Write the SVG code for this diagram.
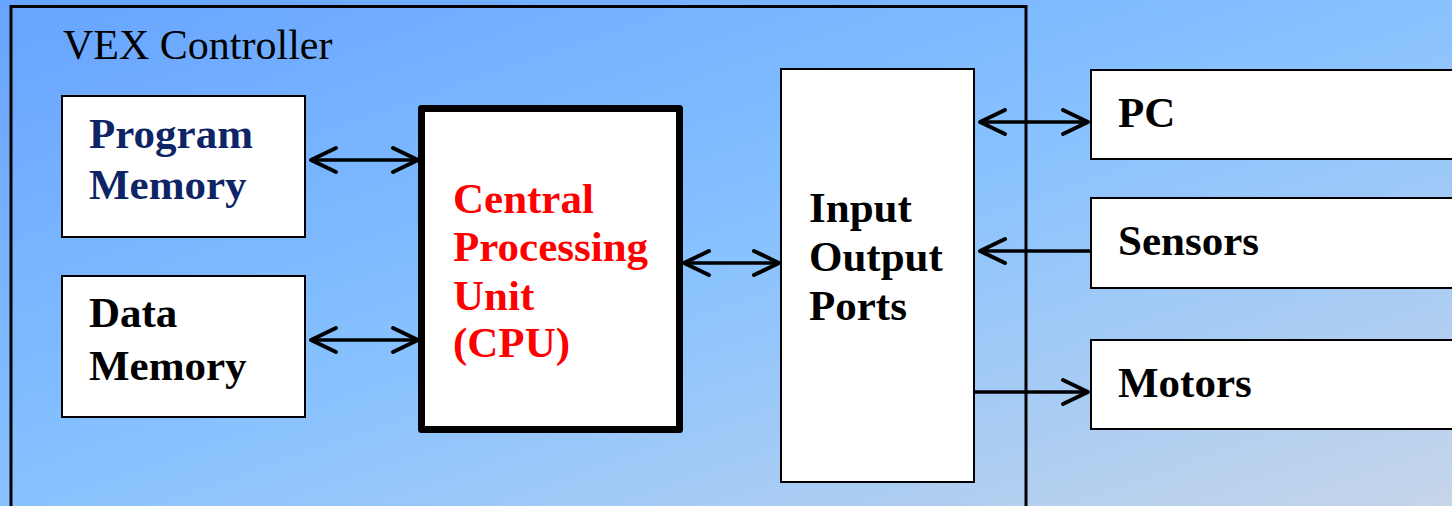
<svg xmlns="http://www.w3.org/2000/svg" width="1452" height="506" viewBox="0 0 1452 506">
<defs>
<linearGradient id="bg" x1="0" y1="0" x2="1" y2="1">
<stop offset="0" stop-color="#66a4ff"/>
<stop offset="0.5" stop-color="#88c2ff"/>
<stop offset="1" stop-color="#c6d5e9"/>
</linearGradient>
<marker id="ah" viewBox="0 0 32 32" refX="28" refY="16" markerWidth="32" markerHeight="32" markerUnits="userSpaceOnUse" orient="auto-start-reverse">
<path d="M3,4 L28,16 L3,28" fill="none" stroke="#000" stroke-width="4" stroke-linecap="round" stroke-linejoin="round"/>
</marker>
<style>
.box{fill:#fff;stroke:#000;stroke-width:2}
.t{font-family:"Liberation Serif","Times New Roman",serif;font-weight:bold;font-size:43px;fill:#000}
.conn{stroke:#000;stroke-width:3.5;fill:none}
</style>
</defs>
<rect x="0" y="0" width="1452" height="506" fill="url(#bg)"/>
<g id="controller">
<rect x="11" y="6.5" width="1015" height="520" fill="none" stroke="#000" stroke-width="3"/>
<text x="63" y="59" font-family="Liberation Serif,'Times New Roman',serif" font-size="42" fill="#000">VEX Controller</text>
</g>
<g id="program-memory">
<rect class="box" x="62" y="96" width="243" height="141"/>
<text class="t" style="fill:#0d2466" x="89" y="148">Program</text>
<text class="t" style="fill:#0d2466" x="89" y="199">Memory</text>
</g>
<g id="data-memory">
<rect class="box" x="62" y="276" width="243" height="141"/>
<text class="t" x="89" y="327">Data</text>
<text class="t" x="89" y="380">Memory</text>
</g>
<g id="cpu">
<rect x="421.5" y="108.5" width="258" height="321" fill="#fff" stroke="#000" stroke-width="7" stroke-linejoin="round"/>
<text class="t" style="fill:#ff0000" x="453" y="213">Central</text>
<text class="t" style="fill:#ff0000" x="453" y="261">Processing</text>
<text class="t" style="fill:#ff0000" x="453" y="310">Unit</text>
<text class="t" style="fill:#ff0000" x="453" y="357">(CPU)</text>
</g>
<g id="io-ports">
<rect class="box" x="781" y="69" width="193" height="413"/>
<text class="t" x="809" y="222">Input</text>
<text class="t" x="809" y="271">Output</text>
<text class="t" x="809" y="320">Ports</text>
</g>
<g id="pc">
<rect class="box" x="1091" y="70" width="380" height="89"/>
<text class="t" x="1118" y="127">PC</text>
</g>
<g id="sensors">
<rect class="box" x="1091" y="198" width="380" height="90"/>
<text class="t" x="1118" y="255">Sensors</text>
</g>
<g id="motors">
<rect class="box" x="1091" y="340" width="380" height="89"/>
<text class="t" x="1118" y="397">Motors</text>
</g>
<g id="connectors">
<line class="conn" x1="311" y1="160" x2="418" y2="160" marker-start="url(#ah)" marker-end="url(#ah)"/>
<line class="conn" x1="311" y1="340" x2="418" y2="340" marker-start="url(#ah)" marker-end="url(#ah)"/>
<line class="conn" x1="684" y1="263" x2="779" y2="263" marker-start="url(#ah)" marker-end="url(#ah)"/>
<line class="conn" x1="980" y1="122" x2="1088" y2="122" marker-start="url(#ah)" marker-end="url(#ah)"/>
<line class="conn" x1="980" y1="251" x2="1092" y2="251" marker-start="url(#ah)"/>
<line class="conn" x1="974" y1="392" x2="1088" y2="392" marker-end="url(#ah)"/>
</g>
</svg>
